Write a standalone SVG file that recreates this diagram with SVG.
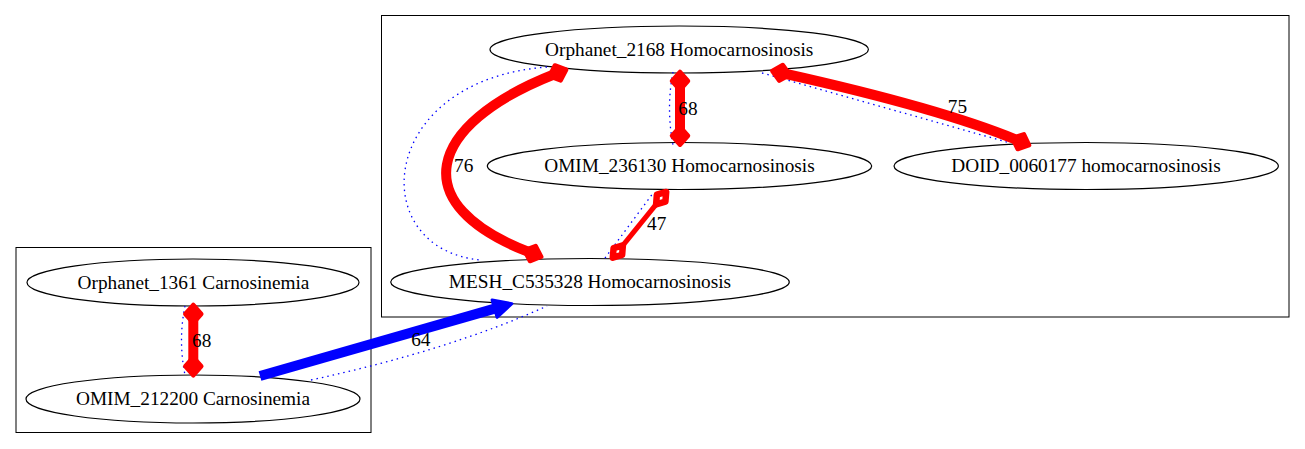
<svg xmlns="http://www.w3.org/2000/svg" width="1305" height="449" viewBox="0 0 1305 449">
<style>
.cl{fill:none;stroke:#000;stroke-width:1}
.nd{fill:none;stroke:#000;stroke-width:1.2}
.t{font-family:'Liberation Serif','Tinos','Times New Roman','DejaVu Serif',serif;font-size:19.3px;fill:#000;text-anchor:middle}
.red{fill:none;stroke:#f00;stroke-width:10}
.red5{fill:none;stroke:#f00;stroke-width:5}
.dot{fill:none;stroke:#00f;stroke-width:1.3;stroke-dasharray:1.5,4}
.blue{fill:none;stroke:#00f;stroke-width:10}
</style>
<defs>
<marker id="dia" markerUnits="userSpaceOnUse" orient="auto-start-reverse" refX="6" refY="0" markerWidth="24" markerHeight="24" overflow="visible">
<polygon points="0,0 9,-8 18,0 9,8" fill="#f00" stroke="#f00" stroke-width="4.5" stroke-linejoin="round"/>
</marker>
<marker id="odia" markerUnits="userSpaceOnUse" orient="auto-start-reverse" refX="0" refY="0" markerWidth="24" markerHeight="24" overflow="visible">
<polygon points="0,0 8,-5.5 16,0 8,5.5" fill="#fff" stroke="#f00" stroke-width="6.5" stroke-linejoin="round"/>
</marker>
<marker id="arr" markerUnits="userSpaceOnUse" orient="auto" refX="2" refY="0" markerWidth="24" markerHeight="24" overflow="visible">
<polygon points="0,-9 18,0 0,9" fill="#00f" stroke="#00f" stroke-width="3" stroke-linejoin="round"/>
</marker>
</defs>
<rect width="1305" height="449" fill="#fff"/>
<g id="clusters">
<rect class="cl" x="381.5" y="15.5" width="907.5" height="301.5"/>
<rect class="cl" x="16" y="247.5" width="355" height="185"/>
</g>
<g id="n_orphanet2168">
<ellipse class="nd" cx="679.2" cy="49.5" rx="189.2" ry="23.5"/>
<text class="t" x="679.2" y="56">Orphanet_2168 Homocarnosinosis</text>
</g>
<g id="n_omim236130">
<ellipse class="nd" cx="679.5" cy="166" rx="192.2" ry="23.5"/>
<text class="t" x="679.5" y="172">OMIM_236130 Homocarnosinosis</text>
</g>
<g id="n_doid0060177">
<ellipse class="nd" cx="1086.2" cy="166" rx="192.2" ry="23.5"/>
<text class="t" x="1086" y="172">DOID_0060177 homocarnosinosis</text>
</g>
<g id="n_mesh">
<ellipse class="nd" cx="590" cy="282" rx="199.3" ry="23.5"/>
<text class="t" x="590" y="288">MESH_C535328 Homocarnosinosis</text>
</g>
<g id="n_orphanet1361">
<ellipse class="nd" cx="193" cy="282.5" rx="166" ry="23.5"/>
<text class="t" x="193.5" y="288.5">Orphanet_1361 Carnosinemia</text>
</g>
<g id="n_omim212200">
<ellipse class="nd" cx="193" cy="399" rx="167" ry="24"/>
<text class="t" x="193" y="404.5">OMIM_212200 Carnosinemia</text>
</g>
<g id="connectors">
<path class="dot" d="M547,67 C375,80 365,250 481,260"/>
<path class="red" d="M555,74 C425,125 405,205 530,252.5" marker-start="url(#dia)" marker-end="url(#dia)"/>
<text class="t" x="463.7" y="171.7">76</text>
<path class="dot" d="M673,72 Q666,108 673,145"/>
<path class="red" d="M680,84 L680,132.7" marker-start="url(#dia)" marker-end="url(#dia)"/>
<text class="t" x="688" y="115">68</text>
<path class="dot" d="M762,73 L1010,143"/>
<path class="red" d="M784,73.5 C840,86 945,110 1018,140.5" marker-start="url(#dia)" marker-end="url(#dia)"/>
<text class="t" x="957.5" y="113.3">75</text>
<path class="dot" d="M651.7,195 L605,258"/>
<path class="red5" d="M656.1,204.4 L622.9,245.3" marker-start="url(#odia)" marker-end="url(#odia)"/>
<text class="t" x="656.7" y="230">47</text>
<path class="dot" d="M185,306 Q178,340 185,375"/>
<path class="red" d="M193.3,317 L193.3,363.3" marker-start="url(#dia)" marker-end="url(#dia)"/>
<text class="t" x="201.7" y="346.7">68</text>
<path class="dot" d="M311,380 Q450,350 547,306"/>
<path class="blue" d="M260,376 L496.5,308.1" marker-end="url(#arr)"/>
<text class="t" x="420.8" y="346">64</text>
</g>
</svg>
